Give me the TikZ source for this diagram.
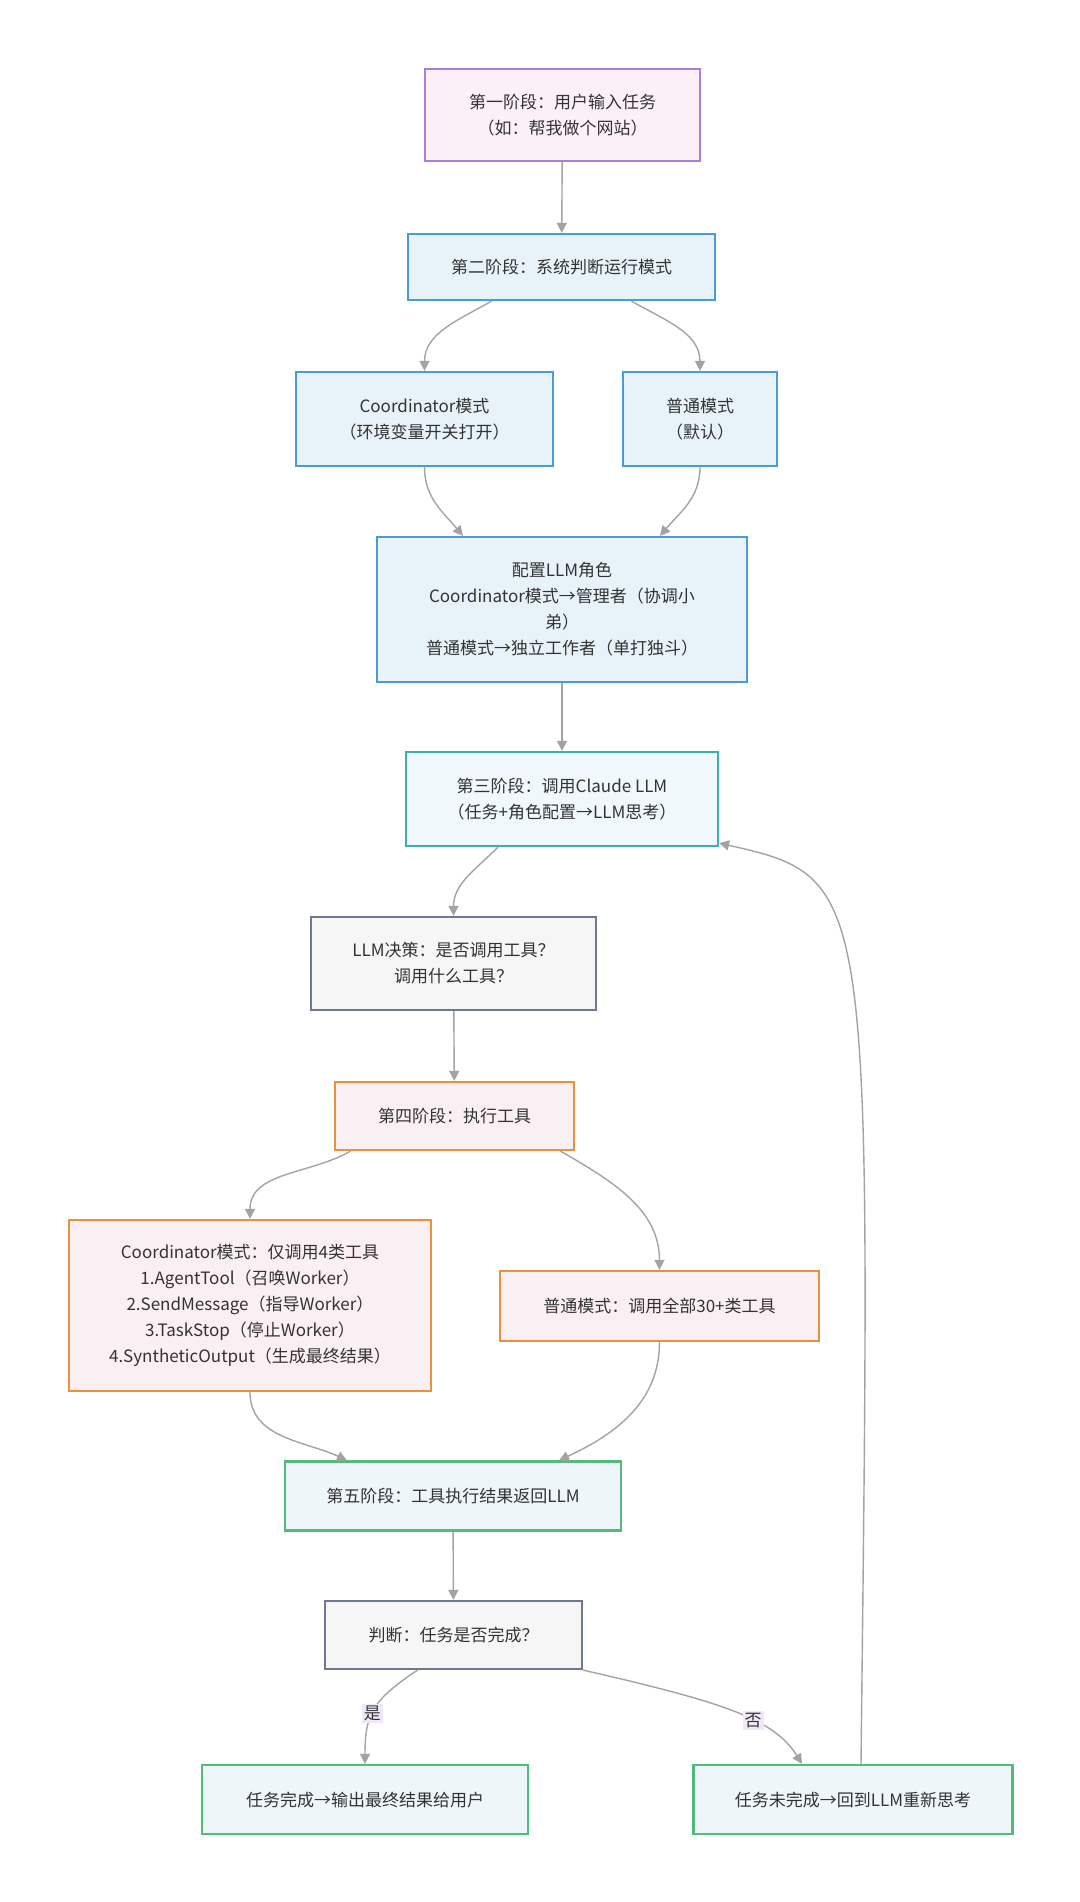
\documentclass[tikz,border=0pt]{standalone}
\usepackage{fontspec}
\setmainfont{Noto Sans CJK SC}
\usetikzlibrary{arrows.meta}

\definecolor{ink}{HTML}{333333}
\definecolor{edgegray}{HTML}{A3A3A3}
\definecolor{tagfill}{HTML}{EFE8F8}
\definecolor{lilaline}{HTML}{A77FDE}
\definecolor{lilafill}{HTML}{FCF0F8}
\definecolor{blueline}{HTML}{4A9BD9}
\definecolor{bluefill}{HTML}{E8F3F9}
\definecolor{tealline}{HTML}{3DAFA8}
\definecolor{tealfill}{HTML}{F0F8FC}
\definecolor{slateline}{HTML}{6E7891}
\definecolor{slatefill}{HTML}{F6F6F6}
\definecolor{orangeline}{HTML}{E8913F}
\definecolor{orangefill}{HTML}{FAF0F3}
\definecolor{greenline}{HTML}{55BB7D}
\definecolor{greenfill}{HTML}{EEF6FA}

\begin{document}
\begin{tikzpicture}[x=0.5pt, y=0.5pt,
  box/.style={draw, line width=1.1pt, align=center, inner sep=0pt, text=ink, font=\fontsize{8.5}{13}\selectfont},
  lila/.style={box, draw=lilaline, fill=lilafill},
  blu/.style={box, draw=blueline, fill=bluefill},
  teal/.style={box, draw=tealline, fill=tealfill},
  slate/.style={box, draw=slateline, fill=slatefill},
  orng/.style={box, draw=orangeline, fill=orangefill},
  grn/.style={box, draw=greenline, fill=greenfill},
  flow/.style={draw=edgegray, line width=0.7pt, -{Triangle[length=5pt, width=5pt]}},
  tag/.style={fill=tagfill, inner sep=1pt, text=ink, font=\fontsize{8.5}{13}\selectfont}
]
\useasboundingbox (0,0) rectangle (1080,-1902);

\node[lila, minimum width=137.5pt, minimum height=46pt] (input) at (562.5,-115) {第一阶段：用户输入任务\\（如：帮我做个网站）};
\node[blu, minimum width=153.5pt, minimum height=33pt] (mode) at (561.5,-267) {第二阶段：系统判断运行模式};
\node[blu, minimum width=128.5pt, minimum height=47pt] (coordmode) at (424.5,-419) {Coordinator模式\\（环境变量开关打开）};
\node[blu, minimum width=77pt, minimum height=47pt] (normalmode) at (700,-419) {普通模式\\（默认）};
\node[blu, minimum width=185pt, minimum height=72.5pt] (role) at (562,-609.5) {配置LLM角色\\Coordinator模式→管理者（协调小\\弟）\\普通模式→独立工作者（单打独斗）};
\node[teal, minimum width=156pt, minimum height=47pt] (callllm) at (562,-799) {第三阶段：调用Claude LLM\\（任务+角色配置→LLM思考）};
\node[slate, minimum width=142.5pt, minimum height=46.5pt] (decide) at (453.5,-963.5) {LLM决策：是否调用工具？\\调用什么工具？};
\node[orng, minimum width=119.5pt, minimum height=34pt] (exec) at (454.5,-1116) {第四阶段：执行工具};
\node[orng, minimum width=181pt, minimum height=85.5pt] (coordtools) at (250,-1305.5) {Coordinator模式：仅调用4类工具\\1.AgentTool（召唤Worker）\\2.SendMessage（指导Worker）\\3.TaskStop（停止Worker）\\4.SyntheticOutput（生成最终结果）};
\node[orng, minimum width=159.5pt, minimum height=35pt] (alltools) at (659.5,-1306) {普通模式：调用全部30+类工具};
\node[grn, minimum width=168pt, minimum height=34.5pt] (result) at (453,-1496) {第五阶段：工具执行结果返回LLM};
\node[slate, minimum width=128.5pt, minimum height=34pt] (check) at (453.5,-1635) {判断：任务是否完成？};
\node[grn, minimum width=163pt, minimum height=34.5pt] (done) at (365,-1799.5) {任务完成→输出最终结果给用户};
\node[grn, minimum width=159.5pt, minimum height=34.5pt] (redo) at (853,-1799.5) {任务未完成→回到LLM重新思考};

\draw[flow] (input) -- (mode);
\draw[flow] ([xshift=-35pt]mode.south) to[out=-150, in=90] (coordmode.north);
\draw[flow] ([xshift=35pt]mode.south) to[out=-30, in=90] (normalmode.north);
\draw[flow] (coordmode.south) to[out=-90, in=130] ([xshift=-49.5pt]role.north);
\draw[flow] (normalmode.south) to[out=-90, in=50] ([xshift=49pt]role.north);
\draw[flow] (role) -- (callllm);
\draw[flow] ([xshift=-32pt]callllm.south) to[out=-135, in=90] (decide.north);
\draw[flow] (decide) -- (exec);
\draw[flow] ([xshift=-52pt]exec.south) to[out=-150, in=90] (coordtools.north);
\draw[flow] ([xshift=53pt]exec.south) to[out=-30, in=90] (alltools.north);
\draw[flow] (coordtools.south) to[out=-90, in=155] ([xshift=-53pt]result.north);
\draw[flow] (alltools.south) to[out=-90, in=25] ([xshift=53pt]result.north);
\draw[flow] (result) -- (check);
\draw[flow] ([xshift=-18pt]check.south) .. controls +(-45,-30) and +(0,50) .. node[tag, pos=0.55] {是} (done.north);
\draw[flow] (check.south east) .. controls +(140,-32) and +(-28,45) .. node[tag, pos=0.6] {否} ([xshift=-25.5pt]redo.north);
\draw[flow] ([xshift=4pt]redo.north) .. controls +(10,880) and +(155,-35) .. ([yshift=2pt]callllm.south east);
\end{tikzpicture}
\end{document}
